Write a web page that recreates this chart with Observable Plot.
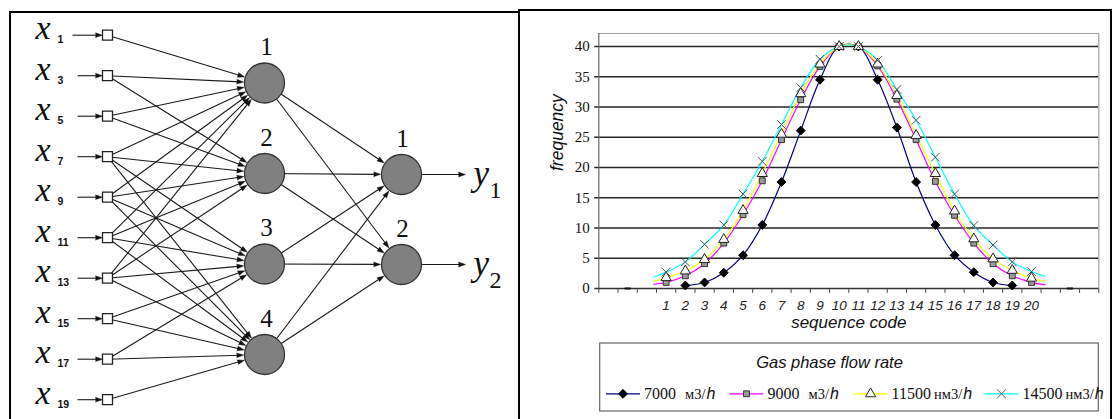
<!DOCTYPE html>
<html><head><meta charset="utf-8">
<script src="https://cdn.jsdelivr.net/npm/d3@7"></script>
<script src="https://cdn.jsdelivr.net/npm/@observablehq/plot@0.6"></script>
<style>
html,body{margin:0;padding:0;background:#fff;}
#root{position:relative;width:1114px;height:419px;overflow:hidden;background:#fff;}
.abs{position:absolute;}
</style></head><body><div id="root"></div>
<script>
// ================= CHART DATA =================
const categories = [1,2,3,4,5,6,7,8,9,10,11,12,13,14,15,16,17,18,19,20];
const flow7000  = [null,0.5,1.0,2.6,5.5,10.5,17.6,26.1,34.5,40,40,34.5,26.6,17.6,10.5,5.5,2.7,1.0,0.5,null];
const flow9000  = [1.0,2.1,4.1,7.5,12.2,17.8,24.6,31.2,36.7,40,40,36.8,31.3,24.6,17.7,12.1,7.5,4.1,2.1,1.0];
const flow11500 = [1.8,2.9,4.8,8.1,12.9,19.0,25.5,32.2,37.1,40,40,37.1,31.9,25.3,19.0,12.8,8.2,4.9,3.0,1.7];
const flow14500 = [2.7,4.4,7.3,10.5,15.6,21.0,27.1,33.2,37.9,40,40,37.7,32.9,27.8,21.7,15.6,10.4,7.2,4.4,2.8];
// short line ends drawn beyond the first / last marker
const tailPos = [0.35, 20.7];
const tailLeft  = [null, 0.7, 1.2, 1.9];
const tailRight = [null, 0.6, 1.2, 2.0];
const zeroDashes = [-1, 22];
const seriesNames = ["7000","9000","11500","14500"];
const seriesUnits = ["м3/","м3/","нм3/","нм3/"];
const yTicks = [0,5,10,15,20,25,30,35,40];
const legendTitle = "Gas phase flow rate";
const xTitle = "sequence code";
const yTitle = "frequency";

// ================= NETWORK DATA =================
const inputSubscripts = ["1","3","5","7","9","11","13","15","17","19"];
const hiddenLabels = ["1","2","3","4"];
const outputLabels = ["1","2"];
const hiddenFanIn = [[0,1,2,3,4,5,6],[1,2,3,4,5,6],[3,4,5,6,7,8],[3,4,5,6,7,8,9]];

// ---------------- styles ----------------
const seriesStyle = [
  {color:"#000080", symbol:"diamond2", fill:"#000", stroke:"#000", r:4, sw:1},
  {color:"#ff00ff", symbol:"square", fill:"#9a9a9a", stroke:"#333", r:3.3, sw:1},
  {color:"#ffff00", symbol:"triangle", fill:"#fff", stroke:"#222", r:3.8, sw:1},
  {color:"#00ffff", symbol:"times", fill:"none", stroke:"#555", r:4, sw:1}
];
const seriesValues = [flow7000, flow9000, flow11500, flow14500];

const root = document.getElementById("root");
function box(css){const d=document.createElement("div");d.className="abs";Object.assign(d.style,css);root.appendChild(d);return d;}

// ================= NETWORK DIAGRAM =================
const L = {labelX:35, subX:57, arrowX:77, inputX:107, sq:10, hiddenX:264, outputX:401,
  rowTop:34.7, rowGap:40.5, hiddenY:[82.5,173,263.5,354], outputY:[174,264], r:20, tipX:465, yLabelX:473};
const inputs = inputSubscripts.map((s,i)=>({sub:s, x:L.inputX, y:L.rowTop+i*L.rowGap}));
const hidden = hiddenLabels.map((s,j)=>({label:s, x:L.hiddenX, y:L.hiddenY[j]}));
const outputs = outputLabels.map((s,k)=>({label:s, x:L.outputX, y:L.outputY[k]}));

const links = [], tips = [];
function addArrow(x1,y1,x2,y2,inset){
  const dx=x2-x1, dy=y2-y1, len=Math.hypot(dx,dy), ux=dx/len, uy=dy/len;
  const tx=x2-ux*inset, ty=y2-uy*inset;
  links.push({x1,y1,x2:tx-ux*3,y2:ty-uy*3});
  tips.push({x:tx,y:ty,angle:Math.atan2(ux,-uy)*180/Math.PI});
}
inputs.forEach((d,i)=>addArrow(i===0 ? L.arrowX-5 : L.arrowX,d.y,d.x,d.y,L.sq/2));
hiddenFanIn.forEach((ins,j)=>ins.forEach(i=>addArrow(inputs[i].x,inputs[i].y,hidden[j].x,hidden[j].y,L.r+0.8)));
hidden.forEach(h=>outputs.forEach(o=>addArrow(h.x,h.y,o.x,o.y,L.r+0.8)));
outputs.forEach(o=>addArrow(o.x,o.y,L.tipX,o.y,0));

const serif = "'Liberation Serif','Times New Roman',serif";
const sans = "'Liberation Sans',Arial,sans-serif";

const net = Plot.plot({
  width:520, height:419, margin:0,
  x:{domain:[0,520], range:[0,520], axis:null},
  y:{domain:[0,419], range:[0,419], axis:null},
  style:{background:"transparent", overflow:"visible"},
  marks:[
    Plot.link(links,{x1:"x1",y1:"y1",x2:"x2",y2:"y2",stroke:"#1a1a1a",strokeWidth:1.1}),
    Plot.vector(tips,{x:"x",y:"y",rotate:"angle",length:7,r:2.4,shape:"spike",anchor:"end",fill:"#111",stroke:"#111",strokeWidth:0.4}),
    Plot.dot(inputs,{x:"x",y:"y",symbol:"square",r:L.sq/2/0.886,fill:"#fff",stroke:"#222",strokeWidth:1.3}),
    Plot.dot(hidden,{x:"x",y:"y",r:L.r,fill:"#808080",stroke:"#333",strokeWidth:1.3}),
    Plot.dot(outputs,{x:"x",y:"y",r:L.r,fill:"#808080",stroke:"#333",strokeWidth:1.3}),
    Plot.text(inputs,{x:L.labelX,y:d=>d.y+4,text:()=>"x",fontFamily:serif,fontStyle:"italic",fontSize:34,textAnchor:"start",lineAnchor:"bottom",fill:"#111"}),
    Plot.text(inputs,{x:L.subX,y:d=>d.y+8,text:"sub",fontFamily:sans,fontWeight:"bold",fontSize:10.5,textAnchor:"start",lineAnchor:"bottom",fill:"#111"}),
    Plot.text(hidden,{x:d=>d.x+2,y:d=>d.y-28,text:"label",fontFamily:serif,fontSize:25,lineAnchor:"bottom",fill:"#111"}),
    Plot.text(outputs,{x:d=>d.x+1,y:d=>d.y-28,text:"label",fontFamily:serif,fontSize:25,lineAnchor:"bottom",fill:"#111"}),
    Plot.text(outputs,{x:L.yLabelX,y:d=>d.y+10,text:()=>"y",fontFamily:serif,fontStyle:"italic",fontSize:35,textAnchor:"start",lineAnchor:"bottom",fill:"#111"}),
    Plot.text(outputs,{x:L.yLabelX+16,y:d=>d.y+23,text:"label",fontFamily:serif,fontSize:24,textAnchor:"start",lineAnchor:"bottom",fill:"#111"})
  ]
});
const netHolder = box({left:"0px",top:"0px"}); netHolder.appendChild(net);

// panel borders
box({left:"9px",top:"11px",width:"511px",height:"420px",border:"2.5px solid #000",borderBottom:"none",boxSizing:"border-box"});
box({left:"518px",top:"8.5px",width:"594px",height:"420px",border:"2.5px solid #000",borderBottom:"none",boxSizing:"border-box"});

// ================= CHART =================
const xDom = [-2.5, 23.5], yMax = 42.15;
const bounds = d3.range(xDom[0], xDom[1]+0.01, 1);
const series = seriesNames.map((name,k)=>{
  const rows = categories.map((c,i)=>({x:c, y:seriesValues[k][i]})).filter(d=>d.y!=null);
  const lineRows = [
    ...(tailLeft[k]!=null ? [{x:tailPos[0], y:tailLeft[k]}] : []),
    ...rows,
    ...(tailRight[k]!=null ? [{x:tailPos[1], y:tailRight[k]}] : [])
  ];
  return {name, unit:seriesUnits[k], ...seriesStyle[k], rows, lineRows};
});

const chart = Plot.plot({
  width:594, height:340,
  marginLeft:78.3, marginRight:15.7, marginTop:33, marginBottom:52,
  x:{domain:xDom, axis:null},
  y:{domain:[0,yMax], axis:null},
  style:{background:"transparent", overflow:"visible"},
  marks:[
    Plot.ruleY(yTicks.filter(d=>d>0),{x1:xDom[0]-0.21,x2:xDom[1],stroke:"#262626",strokeWidth:1.3}),
    Plot.ruleY([yMax],{x1:xDom[0],x2:xDom[1],stroke:"#a0a0a0",strokeWidth:1.2}),
    Plot.ruleX([xDom[1]],{y1:0,y2:yMax,stroke:"#a0a0a0",strokeWidth:1.2}),
    Plot.ruleX([xDom[0]],{y1:0,y2:yMax,stroke:"#666",strokeWidth:1.2}),
    Plot.ruleY([0],{x1:xDom[0]-0.21,x2:xDom[1],stroke:"#333",strokeWidth:1.3}),
    Plot.ruleX(bounds,{y1:0,y2:-0.8,stroke:"#444",strokeWidth:1}),
    Plot.link(zeroDashes,{x1:d=>d-0.16,x2:d=>d+0.16,y1:0,y2:0,stroke:"#111",strokeWidth:2}),
    Plot.text(yTicks,{x:xDom[0],y:d=>d,dx:-9,text:d=>String(d),textAnchor:"end",fontFamily:serif,fontSize:15,fill:"#111"}),
    Plot.text(categories,{x:d=>d,y:0,dy:17.5,text:d=>String(d),fontFamily:sans,fontStyle:"italic",fontSize:13.5,letterSpacing:"-0.6px",fill:"#222"}),
    Plot.text([xTitle],{frameAnchor:"bottom",dy:39,text:d=>d,fontFamily:sans,fontStyle:"italic",fontSize:17,fill:"#111"}),
    Plot.text([yTitle],{frameAnchor:"left",dx:-41,dy:10,rotate:-90,text:d=>d,fontFamily:sans,fontStyle:"italic",fontSize:17.5,fill:"#111"}),
    ...series.map(s=>Plot.line(s.lineRows,{x:"x",y:"y",stroke:s.color,strokeWidth:1.2,curve:"catmull-rom"})),
    ...series.map(s=>Plot.dot(s.rows,{x:"x",y:"y",symbol:s.symbol,r:s.r,fill:s.fill,stroke:s.stroke,strokeWidth:s.sw}))
  ]
});
const chartHolder = box({left:"520px",top:"0px"}); chartHolder.appendChild(chart);

// ================= LEGEND =================
const lg = d3.create("svg").attr("width",1114).attr("height",419)
  .style("position","absolute").style("left","0").style("top","0").style("overflow","visible");
lg.append("rect").attr("x",599.7).attr("y",343).attr("width",498.6).attr("height",68)
  .attr("fill","#fff").attr("stroke","#666").attr("stroke-width",1.2);
lg.append("text").attr("x",829.5).attr("y",362).attr("dy","0.35em").attr("text-anchor","middle")
  .attr("font-family",sans).attr("font-style","italic").attr("font-size",16.5).attr("fill","#111").text(legendTitle);
const legendX = [606, 729.5, 853.6, 984.5];
const symMap = {diamond2:d3.symbolDiamond2, square:d3.symbolSquare, triangle:d3.symbolTriangle, times:d3.symbolTimes};
series.forEach((s,k)=>{
  const x0 = legendX[k], yC = 393.8, g = lg.append("g");
  g.append("line").attr("x1",x0).attr("x2",x0+34).attr("y1",yC).attr("y2",yC).attr("stroke",s.color).attr("stroke-width",1.3);
  g.append("path").attr("transform",`translate(${x0+17},${yC})`)
    .attr("d",d3.symbol(symMap[s.symbol], Math.PI*s.r*s.r)())
    .attr("fill",s.fill).attr("stroke",s.stroke).attr("stroke-width",s.sw);
  const t = g.append("text").attr("x",x0+38).attr("y",yC).attr("dy","0.35em")
    .attr("font-family",serif).attr("font-size",16).attr("fill","#111");
  t.append("tspan").text(s.name);
  t.append("tspan").attr("dx", s.name.length===4 ? 9 : 3).attr("font-size",14.5).text(s.unit);
  t.append("tspan").attr("dx",1).attr("font-style","italic").attr("font-family",sans).attr("font-size",16).text("h");
});
root.appendChild(lg.node());
</script></body></html>
